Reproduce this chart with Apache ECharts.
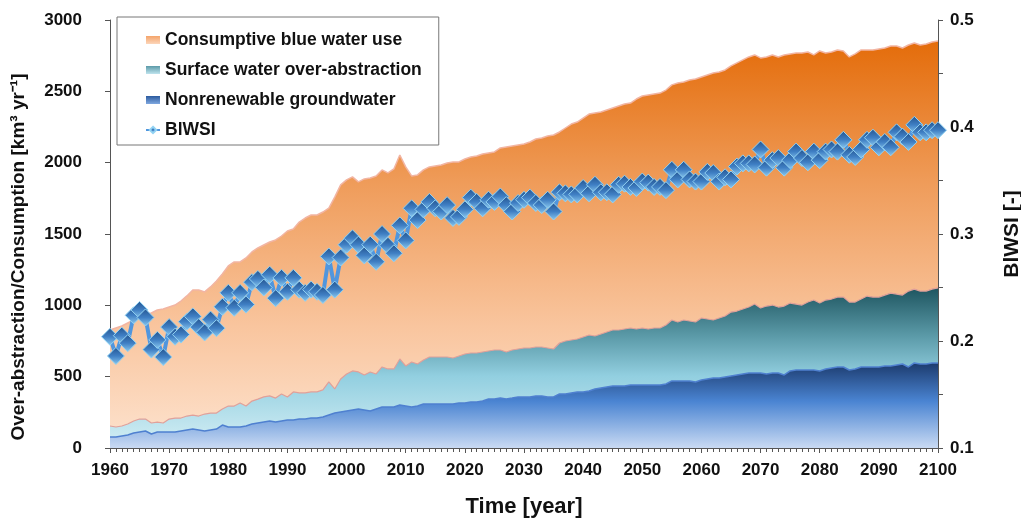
<!DOCTYPE html>
<html>
<head>
<meta charset="utf-8">
<script src="https://cdn.jsdelivr.net/npm/echarts/dist/echarts.min.js"></script>
<style>
  html, body { margin: 0; padding: 0; background: #fff; }
  #chart { width: 1021px; height: 521px; }
</style>
</head>
<body>
<div id="chart"></div>
<script>
  // years 1960 .. 2100
  const years = [
    1960, 1961, 1962, 1963, 1964, 1965, 1966, 1967, 1968, 1969,
    1970, 1971, 1972, 1973, 1974, 1975, 1976, 1977, 1978, 1979,
    1980, 1981, 1982, 1983, 1984, 1985, 1986, 1987, 1988, 1989,
    1990, 1991, 1992, 1993, 1994, 1995, 1996, 1997, 1998, 1999,
    2000, 2001, 2002, 2003, 2004, 2005, 2006, 2007, 2008, 2009,
    2010, 2011, 2012, 2013, 2014, 2015, 2016, 2017, 2018, 2019,
    2020, 2021, 2022, 2023, 2024, 2025, 2026, 2027, 2028, 2029,
    2030, 2031, 2032, 2033, 2034, 2035, 2036, 2037, 2038, 2039,
    2040, 2041, 2042, 2043, 2044, 2045, 2046, 2047, 2048, 2049,
    2050, 2051, 2052, 2053, 2054, 2055, 2056, 2057, 2058, 2059,
    2060, 2061, 2062, 2063, 2064, 2065, 2066, 2067, 2068, 2069,
    2070, 2071, 2072, 2073, 2074, 2075, 2076, 2077, 2078, 2079,
    2080, 2081, 2082, 2083, 2084, 2085, 2086, 2087, 2088, 2089,
    2090, 2091, 2092, 2093, 2094, 2095, 2096, 2097, 2098, 2099,
    2100
  ];

  // km3/yr
  const consumptive = [
    827, 841, 855, 876, 897, 918, 939, 946, 967, 974,
    988, 1002, 1030, 1066, 1108, 1108, 1094, 1129, 1171, 1220,
    1276, 1304, 1304, 1332, 1374, 1402, 1423, 1444, 1458, 1486,
    1521, 1535, 1584, 1612, 1633, 1633, 1654, 1682, 1759, 1844,
    1879, 1900, 1865, 1886, 1893, 1907, 1949, 1928, 1956, 2054,
    1970, 1907, 1914, 1949, 1970, 1977, 1984, 1998, 2005, 2005,
    2026, 2040, 2047, 2061, 2068, 2075, 2103, 2110, 2117, 2124,
    2131, 2145, 2166, 2173, 2187, 2194, 2215, 2243, 2271, 2285,
    2313, 2341, 2348, 2355, 2369, 2383, 2397, 2411, 2418, 2446,
    2467, 2474, 2481, 2488, 2509, 2545, 2559, 2566, 2580, 2587,
    2601, 2615, 2629, 2636, 2650, 2678, 2699, 2720, 2741, 2755,
    2734, 2741, 2755, 2741, 2755, 2762, 2769, 2769, 2776, 2755,
    2783, 2769, 2776, 2790, 2783, 2741, 2762, 2790, 2790, 2790,
    2797, 2804, 2818, 2818, 2804, 2825, 2839, 2825, 2832, 2846,
    2853
  ];

  const surfaceOver = [
    154, 147, 154, 168, 189, 203, 203, 175, 182, 175,
    203, 210, 210, 224, 231, 224, 238, 245, 245, 273,
    294, 294, 315, 294, 329, 343, 358, 365, 350, 379,
    358, 393, 386, 386, 393, 393, 407, 463, 414, 484,
    519, 540, 533, 512, 533, 519, 568, 554, 554, 624,
    575, 603, 589, 617, 638, 638, 638, 638, 631, 645,
    659, 666, 666, 673, 680, 687, 687, 673, 687, 694,
    701, 701, 708, 708, 701, 694, 736, 750, 757, 764,
    778, 792, 785, 799, 813, 827, 827, 834, 841, 834,
    841, 834, 841, 841, 862, 897, 883, 897, 890, 883,
    911, 904, 897, 911, 925, 953, 960, 974, 988, 1009,
    981, 995, 1002, 988, 995, 1016, 1009, 1002, 1023, 1037,
    1016, 1037, 1044, 1058, 1058, 1023, 1023, 1044, 1065, 1058,
    1058, 1072, 1086, 1079, 1072, 1100, 1114, 1100, 1100, 1114,
    1122
  ];

  const groundwater = [
    77, 77, 84, 91, 105, 112, 119, 98, 112, 112,
    112, 112, 119, 126, 133, 126, 119, 126, 133, 161,
    147, 147, 147, 154, 168, 175, 182, 189, 182, 189,
    196, 196, 203, 203, 210, 210, 217, 231, 245, 252,
    259, 266, 273, 266, 259, 273, 287, 287, 287, 301,
    294, 287, 294, 308, 308, 308, 308, 308, 308, 315,
    315, 322, 322, 329, 343, 343, 350, 343, 350, 358,
    358, 358, 365, 365, 358, 358, 379, 379, 386, 393,
    393, 400, 414, 421, 428, 435, 435, 435, 442, 442,
    442, 442, 442, 442, 449, 470, 470, 470, 470, 463,
    477, 484, 491, 491, 498, 505, 512, 519, 526, 526,
    526, 519, 526, 526, 512, 540, 547, 547, 547, 547,
    540, 554, 561, 568, 568, 547, 554, 568, 568, 568,
    568, 575, 575, 582, 589, 568, 596, 589, 589, 596,
    596
  ];

  // right axis index
  const blwsi = [
    0.204, 0.186, 0.205, 0.198, 0.224, 0.229, 0.222, 0.192, 0.201, 0.185,
    0.213, 0.204, 0.206, 0.218, 0.223, 0.213, 0.208, 0.220, 0.212, 0.232,
    0.245, 0.231, 0.245, 0.234, 0.255, 0.258, 0.250, 0.262, 0.240, 0.259,
    0.246, 0.259, 0.248, 0.245, 0.248, 0.246, 0.243, 0.279, 0.248, 0.278,
    0.290, 0.296, 0.290, 0.280, 0.290, 0.274, 0.300, 0.289, 0.282, 0.308,
    0.294, 0.324, 0.313, 0.323, 0.330, 0.324, 0.321, 0.327, 0.315, 0.316,
    0.323, 0.334, 0.330, 0.324, 0.332, 0.330, 0.335, 0.327, 0.321, 0.329,
    0.332, 0.334, 0.329, 0.327, 0.332, 0.321, 0.339, 0.338, 0.337, 0.337,
    0.343, 0.338, 0.346, 0.339, 0.339, 0.337, 0.346, 0.347, 0.344, 0.343,
    0.349, 0.348, 0.344, 0.344, 0.341, 0.360, 0.351, 0.360, 0.351, 0.349,
    0.349, 0.358, 0.357, 0.349, 0.353, 0.351, 0.363, 0.366, 0.366, 0.365,
    0.379, 0.362, 0.369, 0.371, 0.362, 0.369, 0.377, 0.371, 0.367, 0.377,
    0.369, 0.377, 0.379, 0.377, 0.388, 0.374, 0.372, 0.379, 0.388, 0.390,
    0.381, 0.386, 0.381, 0.395, 0.391, 0.386, 0.402, 0.395, 0.395, 0.397,
    0.397
  ];

  const seriesNames = ['Consumptive blue water use', 'Surface water over-abstraction', 'Nonrenewable groundwater', 'BlWSI'];

  const font = 'Liberation Sans, Arial, sans-serif';
  const grad = (stops) => new echarts.graphic.LinearGradient(0, 0, 0, 1,
    stops.map(s => ({offset: s[0], color: s[1]})));

  const orangeFill = grad([[0, '#e46c0a'], [0.35, '#ef9c5a'], [0.7, '#f9c59e'], [1, '#fde3cf']]);
  const tealFill = grad([[0, '#1e5560'], [0.3, '#5b9aa8'], [0.55, '#92cfe0'], [1, '#d6eff5']]);
  const blueFill = grad([[0, '#1c3b6e'], [0.45, '#4a84d2'], [1, '#c9daf3']]);
  const diamondFill = grad([[0, '#24548f'], [0.5, '#3f7fc4'], [1, '#8ccaf0']]);

  function pairs(vals) {
    return years.map((y, i) => [y, vals[i]]);
  }

  const chart = echarts.init(document.getElementById('chart'));
  const labelStyle = {fontSize: 17, fontWeight: 'bold', color: '#111', fontFamily: font};
  const axisColor = '#555';

  chart.setOption({
    animation: false,
    grid: {left: 110, right: 83, top: 20, bottom: 73, outerBoundsMode: 'none', containLabel: false},
    legend: {
      orient: 'vertical',
      left: 117,
      top: 17,
      padding: [14, 17, 6, 28],
      itemGap: 12,
      itemWidth: 14,
      itemHeight: 8,
      backgroundColor: '#fff',
      borderColor: '#777',
      borderWidth: 1,
      textStyle: {fontSize: 17.5, fontWeight: 'bold', color: '#111', fontFamily: font, lineHeight: 17.5},
      data: [
        {name: seriesNames[0], icon: 'rect', itemStyle: {color: grad([[0, '#f4a46a'], [1, '#fcd6bb']])}},
        {name: seriesNames[1], icon: 'rect', itemStyle: {color: grad([[0, '#5b9aa8'], [1, '#bfe4ee']])}},
        {name: seriesNames[2], icon: 'rect', itemStyle: {color: grad([[0, '#2b5a9e'], [1, '#7fa8e0']])}},
        {name: seriesNames[3]}
      ]
    },
    xAxis: {
      type: 'value',
      min: 1960,
      max: 2100,
      interval: 10,
      splitLine: {show: false},
      axisLine: {lineStyle: {color: axisColor}},
      axisTick: {length: 5, lineStyle: {color: axisColor}},
      minorTick: {show: true, splitNumber: 10, length: 4, lineStyle: {color: axisColor}},
      axisLabel: Object.assign({margin: 14, formatter: v => String(v)}, labelStyle),
      name: 'Time [year]',
      nameLocation: 'middle',
      nameGap: 48,
      nameTextStyle: {fontSize: 22, fontWeight: 'bold', color: '#111', fontFamily: font}
    },
    yAxis: [
      {
        type: 'value',
        min: 0,
        max: 3000,
        interval: 500,
        splitLine: {show: false},
        axisLine: {show: true, lineStyle: {color: axisColor}},
        axisTick: {show: true, length: 5, lineStyle: {color: axisColor}},
        axisLabel: Object.assign({margin: 28, formatter: v => String(v)}, labelStyle),
        name: 'Over-abstraction/Consumption [km³ yr⁻¹]',
        nameLocation: 'middle',
        nameGap: 82,
        nameTextStyle: {fontSize: 19, fontWeight: 'bold', color: '#111', fontFamily: font, padding: [0, 46, 0, 0]}
      },
      {
        type: 'value',
        position: 'right',
        min: 0.1,
        max: 0.5,
        interval: 0.1,
        splitLine: {show: false},
        axisLine: {show: true, lineStyle: {color: axisColor}},
        axisTick: {show: true, length: 5, lineStyle: {color: axisColor}},
        minorTick: {show: true, splitNumber: 2, length: 5, lineStyle: {color: axisColor}},
        axisLabel: Object.assign({margin: 12, formatter: v => v.toFixed(1)}, labelStyle),
        name: 'BlWSI [-]',
        nameLocation: 'middle',
        nameGap: 64,
        nameTextStyle: {fontSize: 21, fontWeight: 'bold', color: '#111', fontFamily: font}
      }
    ],
    series: [
      {
        name: seriesNames[0],
        type: 'line',
        data: pairs(consumptive),
        symbol: 'none',
        z: 1,
        lineStyle: {color: '#f2b5a3', width: 1.5},
        itemStyle: {color: '#f4a46a'},
        areaStyle: {color: orangeFill, opacity: 1}
      },
      {
        name: seriesNames[1],
        type: 'line',
        data: pairs(surfaceOver),
        symbol: 'none',
        z: 2,
        lineStyle: {color: '#e0a09a', width: 1.2},
        itemStyle: {color: '#5b9aa8'},
        areaStyle: {color: tealFill, opacity: 1}
      },
      {
        name: seriesNames[2],
        type: 'line',
        data: pairs(groundwater),
        symbol: 'none',
        z: 3,
        lineStyle: {color: '#4f80d0', width: 1.5},
        itemStyle: {color: '#2b5a9e'},
        areaStyle: {color: blueFill, opacity: 1}
      },
      {
        name: seriesNames[3],
        type: 'line',
        yAxisIndex: 1,
        data: pairs(blwsi),
        symbol: 'diamond',
        symbolSize: 17,
        showAllSymbol: true,
        z: 5,
        lineStyle: {color: '#5096de', width: 4},
        itemStyle: {color: diamondFill, borderColor: '#93d3f3', borderWidth: 1}
      }
    ]
  });
</script>
</body>
</html>
